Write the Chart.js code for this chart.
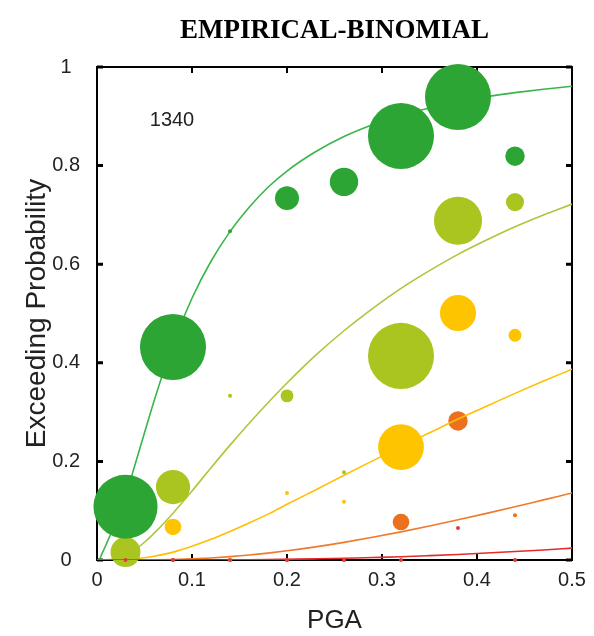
<!DOCTYPE html>
<html>
<head>
<meta charset="utf-8">
<title>EMPIRICAL-BINOMIAL</title>
<script src="https://cdn.jsdelivr.net/npm/chart.js@4.4.1/dist/chart.umd.min.js"></script>
<style>
  html, body { margin: 0; padding: 0; background: #ffffff; }
  #wrap { width: 594px; height: 636px; }
</style>
</head>
<body>
<div id="wrap"><canvas id="chart" width="594" height="636"></canvas></div>
<script>
// ---- text ----
const chartTitle = 'EMPIRICAL-BINOMIAL';
const xAxisTitle = 'PGA';
const yAxisTitle = 'Exceeding Probability';
const sampleLabel = '1340';

// ---- tick values ----
const xTickValues = [0, 0.1, 0.2, 0.3, 0.4, 0.5];
const yTickValues = [0, 0.2, 0.4, 0.6, 0.8, 1];

// ---- empirical exceedance points (PGA bin centres) ----
const pgaBins = [0.03, 0.08, 0.14, 0.20, 0.26, 0.32, 0.38, 0.44];

const ds1Prob  = [0.108, 0.432, 0.667, 0.734, 0.767, 0.860, 0.939, 0.819];
const ds1Count = [91, 97, 0, 10, 15, 97, 97, 6];

const ds2Prob  = [0.016, 0.148, 0.333, 0.333, 0.178, 0.414, 0.688, 0.726];
const ds2Count = [17, 23, 0, 2, 0, 97, 49, 5];

const ds3Prob  = [0, 0.067, 0, 0.136, 0.118, 0.229, 0.501, 0.456];
const ds3Count = [0, 4, 0, 0, 0, 44, 26, 2];

const ds4Prob  = [0, 0, 0, 0, 0, 0.077, 0.282, 0.091];
const ds4Count = [0, 0, 0, 0, 0, 4, 6, 0];

const ds5Prob  = [0, 0, 0, 0, 0, 0, 0.065, 0];
const ds5Count = [0, 0, 0, 0, 0, 0, 0, 0];

// ---- fitted fragility curves ----
const curvePga = [0, 0.002, 0.005, 0.01, 0.02, 0.03, 0.04, 0.05, 0.06, 0.08, 0.10, 0.12, 0.14,
                  0.16, 0.18, 0.20, 0.23, 0.26, 0.29, 0.32, 0.35, 0.38, 0.41, 0.44, 0.47, 0.50];
const ds1Curve = [0, 0, 0.012, 0.033, 0.078, 0.130, 0.193, 0.258, 0.322, 0.438, 0.531, 0.606, 0.666,
                  0.715, 0.756, 0.789, 0.828, 0.859, 0.883, 0.902, 0.917, 0.930, 0.940, 0.948, 0.955, 0.961];
const ds2Curve = [0, 0, 0, 0.0003, 0.003, 0.010, 0.021, 0.036, 0.054, 0.095, 0.140, 0.187, 0.233,
                  0.277, 0.319, 0.359, 0.415, 0.465, 0.510, 0.551, 0.587, 0.620, 0.649, 0.676, 0.700, 0.722];
const ds3Curve = [0, 0, 0, 0, 0.0002, 0.001, 0.0023, 0.0045, 0.0076, 0.016, 0.028, 0.042, 0.058,
                  0.075, 0.093, 0.113, 0.142, 0.172, 0.201, 0.230, 0.258, 0.286, 0.312, 0.338, 0.363, 0.387];
const ds4Curve = [0, 0, 0, 0, 0, 0, 0, 0.0002, 0.0004, 0.001, 0.0023, 0.0042, 0.0068,
                  0.010, 0.014, 0.0186, 0.0266, 0.0358, 0.046, 0.057, 0.069, 0.0815, 0.0946, 0.108, 0.122, 0.136];
const ds5Curve = [0, 0, 0, 0, 0, 0, 0, 0, 0, 0, 0, 0, 0.0002,
                  0.0004, 0.0008, 0.0014, 0.0023, 0.0034, 0.0050, 0.0067, 0.0089, 0.0113, 0.0141, 0.0171, 0.0204, 0.024];

// ---- styling ----
const bubbleColors = ['#2ca535', '#aac520', '#ffc400', '#ec711e', '#e8383a'];
const curveColors  = ['#39b54a', '#a9c83a', '#ffbf00', '#f07a2a', '#e82a2a'];
const sansFont = "'Liberation Sans', Arial, sans-serif";

function bubbleRadius(n) { return 2 + 3.15 * Math.sqrt(n); }

// drawing layer of each damage state (higher = further back); DS5 sits on top
const stateLayers = [70, 80, 90, 100, 60];

const states = [
  { name: 'DS1', prob: ds1Prob, count: ds1Count, curve: ds1Curve },
  { name: 'DS2', prob: ds2Prob, count: ds2Count, curve: ds2Curve },
  { name: 'DS3', prob: ds3Prob, count: ds3Count, curve: ds3Curve },
  { name: 'DS4', prob: ds4Prob, count: ds4Count, curve: ds4Curve },
  { name: 'DS5', prob: ds5Prob, count: ds5Count, curve: ds5Curve }
];

// each damage state: curve underneath, its bubbles just above it
const datasets = [];
states.forEach((s, i) => {
  const base = stateLayers[i];
  datasets.push({
    type: 'line',
    label: s.name + ' fit',
    data: curvePga.map((x, k) => ({ x: x, y: s.curve[k] })),
    borderColor: curveColors[i],
    borderWidth: 1.6,
    pointRadius: 0,
    pointHoverRadius: 0,
    fill: false,
    cubicInterpolationMode: 'monotone',
    order: base
  });
  datasets.push({
    type: 'bubble',
    label: s.name,
    data: pgaBins.map((x, k) => ({ x: x, y: s.prob[k], r: bubbleRadius(s.count[k]) })),
    backgroundColor: bubbleColors[i],
    borderWidth: 0,
    hoverRadius: 0,
    clip: false,
    order: base - 5
  });
});

// box frame with inward ticks on all four sides
const framePlugin = {
  id: 'frame',
  beforeDatasetsDraw(chart) {
    const { ctx, chartArea: a, scales: { x, y } } = chart;
    ctx.save();
    ctx.strokeStyle = '#000';
    ctx.lineWidth = 2;
    ctx.strokeRect(a.left, a.top, a.right - a.left, a.bottom - a.top);
    const tl = 6;
    ctx.lineWidth = 2;
    xTickValues.forEach(v => {
      const px = x.getPixelForValue(v);
      ctx.beginPath();
      ctx.moveTo(px, a.bottom); ctx.lineTo(px, a.bottom - tl);
      ctx.moveTo(px, a.top); ctx.lineTo(px, a.top + tl);
      ctx.stroke();
    });
    ctx.lineWidth = 3;
    yTickValues.forEach(v => {
      const py = y.getPixelForValue(v);
      ctx.beginPath();
      ctx.moveTo(a.left, py); ctx.lineTo(a.left + tl, py);
      ctx.moveTo(a.right, py); ctx.lineTo(a.right - tl, py);
      ctx.stroke();
    });
    ctx.restore();
  },
  afterDatasetsDraw(chart) {
    const { ctx, chartArea: a } = chart;
    ctx.save();
    ctx.fillStyle = '#222';
    ctx.font = "20px " + sansFont;
    ctx.textAlign = 'center';
    ctx.textBaseline = 'middle';
    ctx.fillText(sampleLabel, a.left + 75, a.top + 53);
    ctx.restore();
  }
};

new Chart(document.getElementById('chart'), {
  type: 'bubble',
  data: { datasets: datasets },
  options: {
    responsive: false,
    devicePixelRatio: 1,
    animation: false,
    events: [],
    layout: { autoPadding: false, padding: { left: 0, right: 22, top: 0, bottom: 0 } },
    plugins: {
      legend: { display: false },
      tooltip: { enabled: false },
      title: {
        display: true,
        text: chartTitle,
        fullSize: false,
        color: '#000',
        font: { family: "'Liberation Serif', 'Times New Roman', serif", size: 27, weight: 'bold', lineHeight: 1.2 },
        padding: { top: 15, bottom: 19.6 }
      }
    },
    scales: {
      x: {
        type: 'linear',
        min: 0, max: 0.5,
        afterBuildTicks: s => { s.ticks = xTickValues.map(v => ({ value: v })); },
        afterFit: s => { s.height = 76; },
        grid: { display: false, drawTicks: false },
        border: { display: false },
        ticks: {
          padding: 8,
          color: '#222',
          font: { family: sansFont, size: 20 },
          maxRotation: 0,
          callback: v => String(v)
        },
        title: {
          display: true,
          text: xAxisTitle,
          color: '#222',
          font: { family: sansFont, size: 26 },
          padding: { top: 0, bottom: 0 }
        }
      },
      y: {
        type: 'linear',
        min: 0, max: 1,
        afterBuildTicks: s => { s.ticks = yTickValues.map(v => ({ value: v })); },
        afterFit: s => { s.width = 97; },
        grid: { display: false, drawTicks: false },
        border: { display: false },
        ticks: {
          padding: 17,
          crossAlign: 'center',
          color: '#222',
          font: { family: sansFont, size: 20 },
          callback: v => String(v)
        },
        title: {
          display: true,
          text: yAxisTitle,
          color: '#222',
          font: { family: sansFont, size: 28 },
          padding: { top: 20, bottom: 0 }
        }
      }
    }
  },
  plugins: [framePlugin]
});
</script>
</body>
</html>
